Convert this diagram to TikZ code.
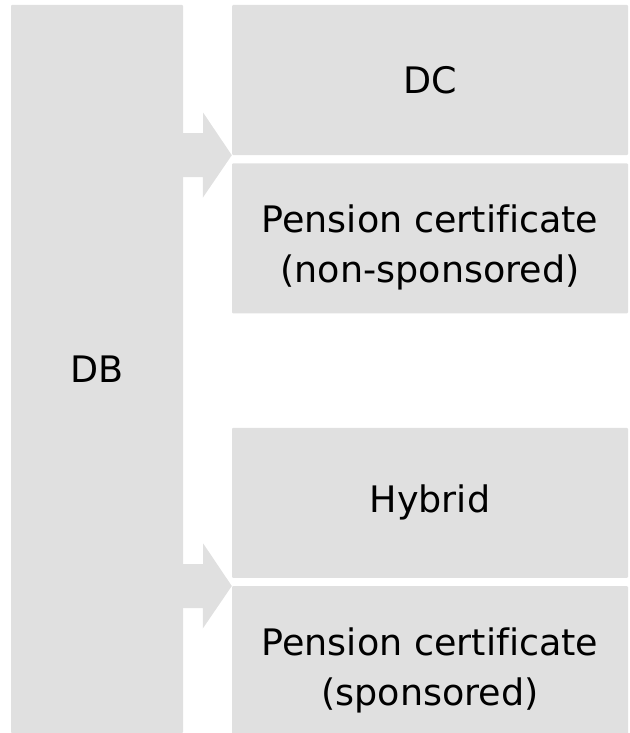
\documentclass[tikz,border=0pt]{standalone}
\usepackage{fontspec}
\setmainfont{DejaVu Sans}[Ligatures=NoCommon]
\usetikzlibrary{positioning,calc}
\definecolor{boxgray}{HTML}{E0E0E0}
\newcommand{\toprule}{\rule{0pt}{38pt}}
\tikzset{box/.style={fill=boxgray,rounded corners=1pt,align=center,
    inner sep=0pt,font=\fontsize{36.5}{50}\selectfont},
  planbox/.style={box,minimum width=396pt,minimum height=150pt},
  twoline/.style={text depth=0pt},
  blockarrow/.style={fill=boxgray}}

\begin{document}
\begin{tikzpicture}
  \useasboundingbox (0,0) rectangle (629pt,-733pt);
  \node[box,minimum width=172pt,minimum height=728pt] (db) at (97pt,-369pt) {DB};
  \node[planbox] (dc) at (430pt,-80pt) {DC};
  \node[planbox,twoline] (pcnon) [below=8pt of dc] {\toprule Pension certificate\\(non-sponsored)};
  \node[planbox] (hybrid) [below=114pt of pcnon] {Hybrid};
  \node[planbox,twoline] (pcspon) [below=8pt of hybrid] {\toprule Pension certificate\\(sponsored)};

  % block arrows from DB to the plan boxes
  \coordinate (a1) at (db.east |- dc.south);
  \coordinate (a2) at (db.east |- pcspon.north);
  \fill[blockarrow] ($(a1)+(0,22pt)$) -- ++(20pt,0) -- ++(0,20.5pt) -- (dc.south west)
    -- ++(-29pt,-42.5pt) -- ++(0,20.5pt) -- ++(-20pt,0) -- cycle;
  \fill[blockarrow] ($(a2)+(0,22pt)$) -- ++(20pt,0) -- ++(0,20.5pt) -- (pcspon.north west)
    -- ++(-29pt,-42.5pt) -- ++(0,20.5pt) -- ++(-20pt,0) -- cycle;
\end{tikzpicture}
\end{document}
